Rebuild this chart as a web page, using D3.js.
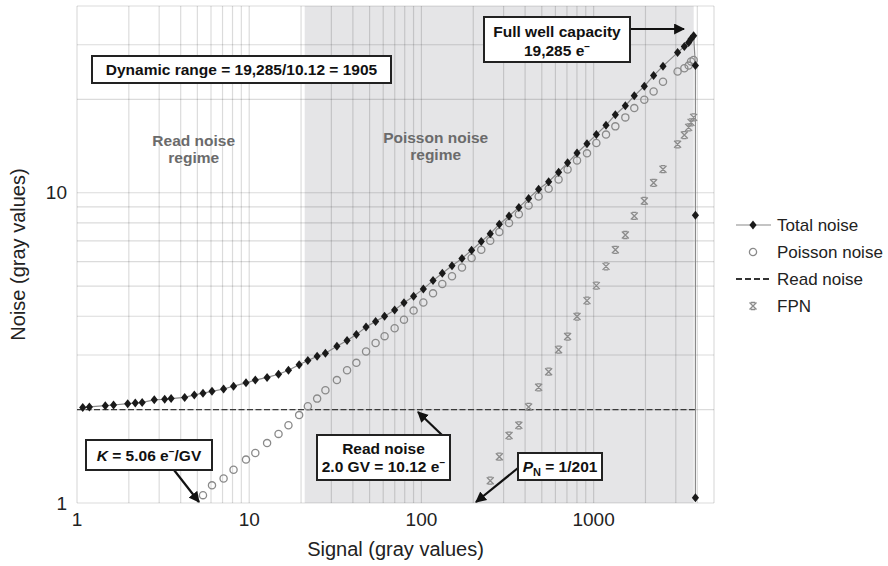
<!DOCTYPE html>
<html>
<head>
<meta charset="utf-8">
<script src="https://cdn.jsdelivr.net/npm/d3@7"></script>
<style>
  body { margin: 0; background: #fff; }
  text { font-family: "Liberation Sans", Arial, sans-serif; }
</style>
</head>
<body>
<div id="chart"></div>
<script>
// signal levels (gray values), shared by all measured series
var signal = [1.08, 1.18, 1.46, 1.63, 1.97, 2.18, 2.39, 2.81, 3.23, 3.52,
  4.22, 4.80, 5.39, 6.08, 7.10, 8.11, 9.58, 10.85, 12.7, 14.8,
  16.9, 19.5, 21.9, 24.8, 27.7, 32.3, 37.0, 41.9, 47.7, 54.2,
  61.1, 69.9, 79.2, 90.1, 102.6, 116.8, 132.2, 150.5, 172, 195.6,
  222.6, 251, 283.4, 322.7, 367.9, 419.3, 479.3, 548, 626, 706,
  801, 915, 1037, 1180, 1337, 1528, 1722, 1969, 2230, 2528,
  3073, 3363, 3562, 3678, 3808, 3900, 3900, 3900];

var totalNoise = [2.03, 2.04, 2.06, 2.07, 2.09, 2.10, 2.11, 2.15, 2.16, 2.17,
  2.19, 2.23, 2.26, 2.29, 2.33, 2.38, 2.44, 2.49, 2.54, 2.60,
  2.68, 2.79, 2.88, 2.97, 3.04, 3.20, 3.34, 3.49, 3.69, 3.85,
  4.00, 4.19, 4.42, 4.64, 4.90, 5.21, 5.50, 5.82, 6.14, 6.53,
  6.96, 7.38, 7.92, 8.42, 8.97, 9.59, 10.26, 10.85, 11.65, 12.49,
  13.43, 14.40, 15.40, 16.5, 17.85, 19.08, 20.53, 22.05, 23.86, 25.6,
  28.3, 29.6, 30.5, 31.3, 32.1, 25.7, 8.46, 1.04];

var poissonNoise = [null, null, null, null, null, null, null, null, null, null,
  null, null, 1.06, 1.14, 1.20, 1.28, 1.38, 1.45, 1.56, 1.67,
  1.78, 1.92, 2.05, 2.17, 2.31, 2.49, 2.68, 2.83, 3.08, 3.28,
  3.45, 3.66, 3.90, 4.17, 4.43, 4.74, 5.08, 5.38, 5.74, 6.16,
  6.55, 7.00, 7.48, 7.99, 8.53, 9.10, 9.73, 10.3, 11.04, 11.89,
  12.7, 13.4, 14.47, 15.4, 16.37, 17.5, 18.75, 19.94, 21.2, 22.8,
  24.6, 25.2, 25.7, 26.5, 26.8, null, null, null];

var fpn = [null, null, null, null, null, null, null, null, null, null,
  null, null, null, null, null, null, null, null, null, null,
  null, null, null, null, null, null, null, null, null, null,
  null, null, null, null, null, null, null, null, null, null,
  null, 1.18, 1.41, 1.65, 1.78, 2.04, 2.36, 2.65, 3.12, 3.44,
  3.99, 4.49, 5.02, 5.79, 6.55, 7.31, 8.42, 9.41, 10.77, 11.91,
  14.33, 15.35, 16.25, 16.86, 17.5, null, null, null];

var readNoiseX = [1, 3900];
var readNoiseY = [2.0, 2.0];

// Poisson noise regime shading (signal range)
var poissonRegime = [21, 3811];

var xTickLabels = [1, 10, 100, 1000];
var yTickLabels = [1, 10];

var legendLabels = ["Total noise", "Poisson noise", "Read noise", "FPN"];

// set the dimensions and margins of the graph
var margin = {top: 6, right: 174, bottom: 63, left: 77},
    width = 888 - margin.left - margin.right,
    height = 566 - margin.top - margin.bottom;

var x = d3.scaleLog().domain([1, 5000]).range([0, width]);
var y = d3.scaleLog().domain([1, 40]).range([height, 0]);

var svg = d3.select("#chart").append("svg")
    .attr("width", 888)
    .attr("height", 566);

var g = svg.append("g")
    .attr("transform", "translate(" + margin.left + "," + margin.top + ")");

// shaded Poisson regime
g.append("rect")
    .attr("x", x(poissonRegime[0]))
    .attr("y", 0)
    .attr("width", x(poissonRegime[1]) - x(poissonRegime[0]))
    .attr("height", height)
    .attr("fill", "#e5e5e7");

// gridlines (log minor steps)
var xGrid = [], yGrid = [];
[1, 10, 100, 1000].forEach(function(p) {
  for (var k = 1; k <= 9; k++) { if (p * k <= 5000) xGrid.push(p * k); }
});
[1, 10].forEach(function(p) {
  for (var k = 1; k <= 9; k++) { if (p * k <= 40) yGrid.push(p * k); }
});

g.selectAll(".xgrid").data(xGrid).enter().append("line")
    .attr("x1", function(d) { return x(d); })
    .attr("x2", function(d) { return x(d); })
    .attr("y1", 0).attr("y2", height)
    .attr("stroke", "rgba(0,0,0,0.14)")
    .attr("stroke-width", 1.2);

g.selectAll(".ygrid").data(yGrid).enter().append("line")
    .attr("x1", 0).attr("x2", width)
    .attr("y1", function(d) { return y(d); })
    .attr("y2", function(d) { return y(d); })
    .attr("stroke", "rgba(0,0,0,0.14)")
    .attr("stroke-width", 1.2);

// tick labels
g.selectAll(".xtick").data(xTickLabels).enter().append("text")
    .attr("x", function(d) { return x(d); })
    .attr("y", height + 23)
    .attr("text-anchor", "middle")
    .attr("font-size", 19)
    .attr("fill", "#222")
    .text(function(d) { return d; });

g.selectAll(".ytick").data(yTickLabels).enter().append("text")
    .attr("x", -10)
    .attr("y", function(d) { return y(d) + 6.5; })
    .attr("text-anchor", "end")
    .attr("font-size", 19)
    .attr("fill", "#222")
    .text(function(d) { return d; });

// axis titles
g.append("text")
    .attr("x", width / 2)
    .attr("y", height + 53)
    .attr("text-anchor", "middle")
    .attr("font-size", 20)
    .attr("fill", "#222")
    .text("Signal (gray values)");

g.append("text")
    .attr("transform", "rotate(-90)")
    .attr("x", -height / 2)
    .attr("y", -52)
    .attr("text-anchor", "middle")
    .attr("font-size", 20)
    .attr("fill", "#222")
    .text("Noise (gray values)");

// regime labels
function regimeLabel(cx, y1, lines) {
  lines.forEach(function(t, i) {
    g.append("text")
        .attr("x", cx).attr("y", y1 + i * 17)
        .attr("text-anchor", "middle")
        .attr("font-size", 15.5)
        .attr("font-weight", "bold")
        .attr("fill", "#6b6b6b")
        .text(t);
  });
}
regimeLabel(x(4.76), 140, ["Read noise", "regime"]);
regimeLabel(x(121), 136.5, ["Poisson noise", "regime"]);

var pts = function(xs, ys) {
  return xs.map(function(v, i) { return {x: v, y: ys[i]}; })
           .filter(function(d) { return d.y != null; });
};
var line = d3.line().x(function(d) { return x(d.x); }).y(function(d) { return y(d.y); });

// read noise line
g.append("path")
    .datum(pts(readNoiseX, readNoiseY))
    .attr("fill", "none")
    .attr("stroke", "#3a3a3a")
    .attr("stroke-width", 1.3)
    .attr("stroke-dasharray", "6,2.5")
    .attr("d", line);

// total noise line
var totalPts = pts(signal, totalNoise);
g.append("path")
    .datum(totalPts)
    .attr("fill", "none")
    .attr("stroke", "#8a8a8a")
    .attr("stroke-width", 1.2)
    .attr("d", line);

// FPN stars
var starPath = "M-3.5,-3.5L3.5,3.5M3.5,-3.5L-3.5,3.5M-2.2,-3.5L2.2,-3.5M-2.2,3.5L2.2,3.5";
g.selectAll(".fpn").data(pts(signal, fpn)).enter().append("path")
    .attr("transform", function(d) { return "translate(" + x(d.x) + "," + y(d.y) + ")"; })
    .attr("d", starPath)
    .attr("fill", "none")
    .attr("stroke", "#8c8c8c")
    .attr("stroke-width", 1.3);

// Poisson circles
g.selectAll(".poisson").data(pts(signal, poissonNoise)).enter().append("circle")
    .attr("cx", function(d) { return x(d.x); })
    .attr("cy", function(d) { return y(d.y); })
    .attr("r", 3.6)
    .attr("fill", "none")
    .attr("stroke", "#8a8a8a")
    .attr("stroke-width", 1.3);

// total noise diamonds
var diamond = "M0,-4.5L3.6,0L0,4.5L-3.6,0Z";
g.selectAll(".total").data(totalPts).enter().append("path")
    .attr("transform", function(d) { return "translate(" + x(d.x) + "," + y(d.y) + ")"; })
    .attr("d", diamond)
    .attr("fill", "#1a1a1a");

// annotations
svg.append("defs").append("marker")
    .attr("id", "arrow")
    .attr("viewBox", "0 0 10 10")
    .attr("refX", 9).attr("refY", 5)
    .attr("markerWidth", 5).attr("markerHeight", 5)
    .attr("markerUnits", "strokeWidth")
    .attr("orient", "auto")
  .append("path")
    .attr("d", "M0,0L10,5L0,10Z")
    .attr("fill", "#111");

function arrow(x1, y1, x2, y2) {
  svg.append("line")
      .attr("x1", x1).attr("y1", y1).attr("x2", x2).attr("y2", y2)
      .attr("stroke", "#111")
      .attr("stroke-width", 2.2)
      .attr("marker-end", "url(#arrow)");
}

function box(x0, y0, w, h) {
  svg.append("rect")
      .attr("x", x0).attr("y", y0).attr("width", w).attr("height", h)
      .attr("fill", "#fff")
      .attr("stroke", "#222")
      .attr("stroke-width", 2);
}

function boxText(cx, by) {
  return svg.append("text")
      .attr("x", cx).attr("y", by)
      .attr("text-anchor", "middle")
      .attr("font-size", 15.5)
      .attr("font-weight", "bold")
      .attr("fill", "#111");
}

function eMinus(t) {
  t.append("tspan").text("e");
  t.append("tspan").attr("dy", -6).attr("font-size", 10).text("\u2212");
}

// dynamic range
box(92, 56, 299, 27);
boxText(241.5, 75).text("Dynamic range = 19,285/10.12 = 1905");

// full well capacity
arrow(630, 29, 684, 29);
box(484, 17, 146, 45);
boxText(557, 37).text("Full well capacity");
var fw = boxText(557, 56);
fw.append("tspan").text("19,285 ");
eMinus(fw);

// K
arrow(174, 470, 199, 502);
box(86, 440, 126, 30);
var kt = boxText(149, 461);
kt.append("tspan").attr("font-style", "italic").text("K");
kt.append("tspan").text(" = 5.06 ");
kt.append("tspan").text("e");
kt.append("tspan").attr("dy", -6).attr("font-size", 10).text("\u2212");
kt.append("tspan").attr("dy", 6).text("/GV");

// read noise
arrow(442, 435, 418, 412);
box(317, 435, 133, 45);
boxText(383.5, 454).text("Read noise");
var rn = boxText(383.5, 472);
rn.append("tspan").text("2.0 GV = 10.12 ");
eMinus(rn);

// P_N
arrow(518, 468, 476, 502);
box(518, 453, 84, 27);
var pn = boxText(560, 472);
pn.append("tspan").attr("font-style", "italic").text("P");
pn.append("tspan").attr("dy", 4).attr("font-size", 11).text("N");
pn.append("tspan").attr("dy", -4).text(" = 1/201");

// legend
var legend = svg.append("g").attr("transform", "translate(736,225)");
legendLabels.forEach(function(lbl, i) {
  var row = legend.append("g").attr("transform", "translate(0," + (i * 27) + ")");
  if (i === 0) {
    row.append("line").attr("x1", 0).attr("x2", 35).attr("y1", 0).attr("y2", 0)
        .attr("stroke", "#8a8a8a").attr("stroke-width", 1.2);
    row.append("path").attr("transform", "translate(17,0)").attr("d", diamond).attr("fill", "#1a1a1a");
  } else if (i === 1) {
    row.append("circle").attr("cx", 17).attr("cy", 0).attr("r", 3.6)
        .attr("fill", "none").attr("stroke", "#8a8a8a").attr("stroke-width", 1.3);
  } else if (i === 2) {
    row.append("line").attr("x1", 0).attr("x2", 35).attr("y1", 0).attr("y2", 0)
        .attr("stroke", "#333").attr("stroke-width", 2)
        .attr("stroke-dasharray", "6,3");
  } else {
    row.append("path").attr("transform", "translate(17,0)").attr("d", starPath)
        .attr("fill", "none").attr("stroke", "#8c8c8c").attr("stroke-width", 1.3);
  }
  row.append("text")
      .attr("x", 41).attr("y", 6)
      .attr("font-size", 17)
      .attr("fill", "#222")
      .text(lbl);
});
</script>
</body>
</html>
